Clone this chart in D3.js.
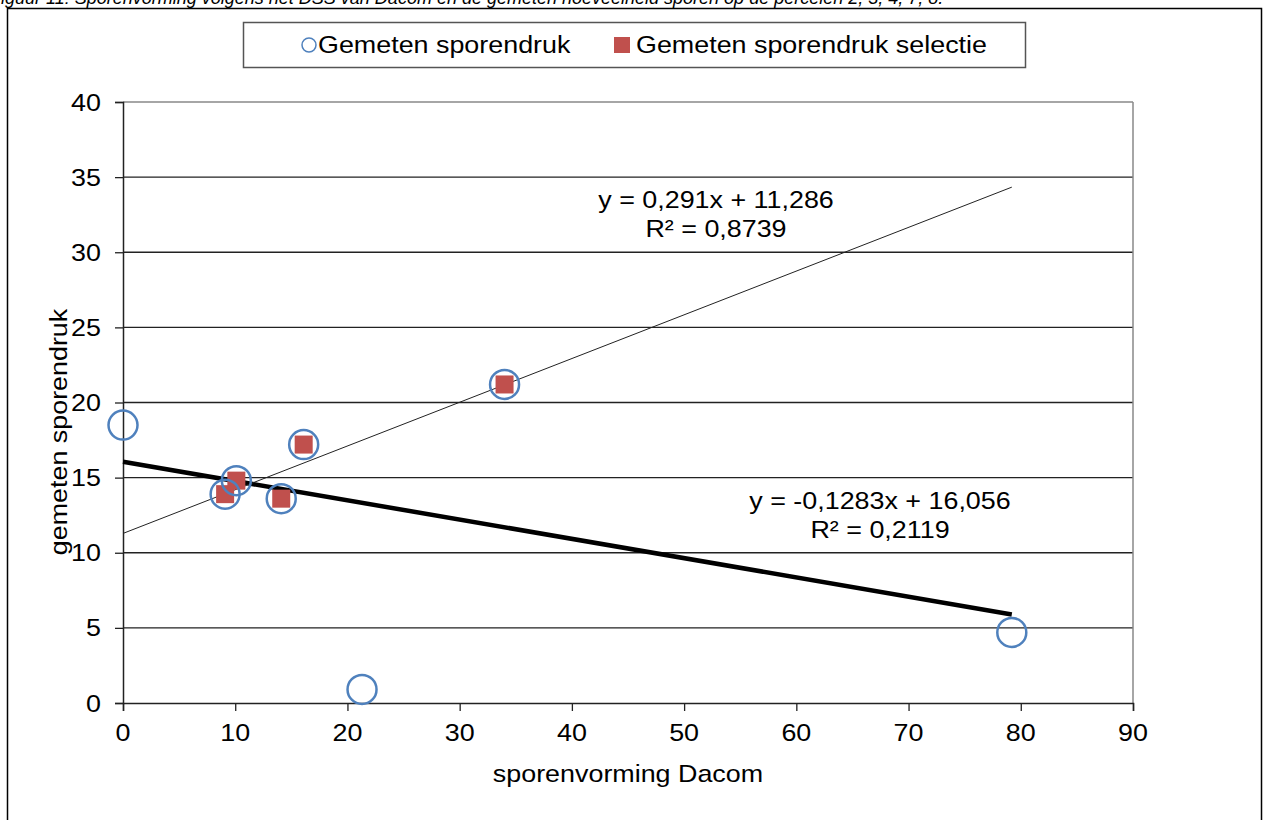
<!DOCTYPE html>
<html>
<head>
<meta charset="utf-8">
<script src="https://cdn.jsdelivr.net/npm/d3@7"></script>
<style>
  body { margin: 0; background: #fff; }
  text { font-family: "Liberation Sans", Arial, sans-serif; fill: #000; }
</style>
</head>
<body>
<div id="chartArea"></div>
<script>
// Data
const sporenvorming = [0, 9.1, 10.1, 14.1, 16.1, 21.3, 34.0, 79.2];
const sporendruk = [18.5, 13.9, 14.8, 13.6, 17.2, 0.9, 21.2, 4.7];
const selectieX = [9.1, 10.1, 14.1, 16.1, 34.0];
const selectieY = [13.9, 14.8, 13.6, 17.2, 21.2];

// Trendlines as printed on the chart
const trendNames = ['alle', 'selectie'];
const trendSlope = [-0.1283, 0.291];
const trendIntercept = [16.056, 11.286];
const trendRange = [[0, 79.2], [0, 79.2]];
const trendLabel = [['y = -0,1283x + 16,056', 'R² = 0,2119'], ['y = 0,291x + 11,286', 'R² = 0,8739']];

const xTicks = [0, 10, 20, 30, 40, 50, 60, 70, 80, 90];
const yTicks = [0, 5, 10, 15, 20, 25, 30, 35, 40];
const legendNames = ['Gemeten sporendruk', 'Gemeten sporendruk selectie'];
const caption = 'Figuur 11: Sporenvorming volgens het DSS van Dacom en de gemeten hoeveelheid sporen op de percelen 2, 3, 4, 7, 8.';

const width = 1264, height = 820;
const plot = { left: 123, right: 1133, top: 102, bottom: 703 };
const fs = 24, sx = 1.12;   // fonts look a bit wider than Arial

const svg = d3.select('#chartArea').append('svg')
    .attr('width', width)
    .attr('height', height);

// caption, mostly cut off at the top
svg.append('text')
    .attr('x', -10)
    .attr('y', 4)
    .style('font-size', '18px')
    .style('font-style', 'italic')
    .text(caption);

// outer frame
svg.append('rect')
    .attr('x', 7.5).attr('y', 8.5)
    .attr('width', 1254).attr('height', 840)
    .attr('fill', 'none')
    .attr('stroke', '#000')
    .attr('stroke-width', 1.5);

let xScale = d3.scaleLinear().domain([0, 90]).range([plot.left, plot.right]);
let yScale = d3.scaleLinear().domain([0, 40]).range([plot.bottom, plot.top]);

function label(x, y, str, anchor, size, scaleX) {
    return svg.append('text')
        .attr('transform', 'translate(' + x + ',' + y + ') scale(' + scaleX + ',1)')
        .attr('text-anchor', anchor)
        .style('font-size', size + 'px')
        .text(str);
}

// gridlines
svg.append('g')
    .selectAll('line')
    .data(yTicks.slice(1))
    .enter().append('line')
    .attr('x1', plot.left).attr('x2', plot.right)
    .attr('y1', d => yScale(d)).attr('y2', d => yScale(d))
    .attr('stroke', d => d === 40 ? '#888' : '#222')
    .attr('stroke-width', 1.3);

// right edge of plot
svg.append('line')
    .attr('x1', plot.right).attr('x2', plot.right)
    .attr('y1', plot.top).attr('y2', plot.bottom)
    .attr('stroke', '#888').attr('stroke-width', 1.5);

// axes
let xAxis = svg.append('g')
    .attr('transform', 'translate(0,' + plot.bottom + ')')
    .call(d3.axisBottom(xScale).tickValues(xTicks).tickSize(8).tickFormat(''));
let yAxis = svg.append('g')
    .attr('transform', 'translate(' + plot.left + ',0)')
    .call(d3.axisLeft(yScale).tickValues(yTicks).tickSize(8).tickFormat(''));
[xAxis, yAxis].forEach(a => {
    a.select('.domain').attr('stroke', '#222').attr('stroke-width', 1.5);
    a.selectAll('.tick line').attr('stroke', '#222').attr('stroke-width', 1.3);
});

xTicks.forEach(t => label(xScale(t), 741, d3.format('d')(t), 'middle', fs, sx));
yTicks.forEach(t => label(101, yScale(t) + 8.5, d3.format('d')(t), 'end', fs, sx));

// axis titles
label(628, 782, 'sporenvorming Dacom', 'middle', fs, sx);
svg.append('text')
    .attr('transform', 'translate(67,432) rotate(-90) scale(' + sx + ',1)')
    .attr('text-anchor', 'middle')
    .style('font-size', fs + 'px')
    .text('gemeten sporendruk');

// trendlines
const trendWidth = [4.5, 1];
trendNames.forEach((n, i) => {
    let line = d3.line()
        .x(d => xScale(d))
        .y(d => yScale(trendSlope[i] * d + trendIntercept[i]));
    svg.append('path')
        .attr('class', 'trend-' + n)
        .attr('d', line(trendRange[i]))
        .attr('fill', 'none')
        .attr('stroke', i === 0 ? '#000' : '#222')
        .attr('stroke-width', trendWidth[i]);
});

// trendline labels
const labelPos = [[880, 509], [716, 208]];
trendLabel.forEach((l, i) => {
    label(labelPos[i][0], labelPos[i][1], l[0], 'middle', fs, sx);
    label(labelPos[i][0], labelPos[i][1] + 29, l[1], 'middle', fs, sx);
});

// points
svg.append('g')
    .selectAll('rect')
    .data(selectieX)
    .enter().append('rect')
    .attr('x', (d, i) => xScale(d) - 9)
    .attr('y', (d, i) => yScale(selectieY[i]) - 9)
    .attr('width', 18).attr('height', 18)
    .attr('fill', '#c0504d');

svg.append('g')
    .selectAll('circle')
    .data(sporenvorming)
    .enter().append('circle')
    .attr('cx', d => xScale(d))
    .attr('cy', (d, i) => yScale(sporendruk[i]))
    .attr('r', 14.5)
    .attr('fill', 'none')
    .attr('stroke', '#4f81bd')
    .attr('stroke-width', 2.5);

// legend
svg.append('rect')
    .attr('x', 243.5).attr('y', 22.5)
    .attr('width', 782).attr('height', 45)
    .attr('fill', '#fff')
    .attr('stroke', '#555')
    .attr('stroke-width', 1.5);
svg.append('circle')
    .attr('cx', 309).attr('cy', 45).attr('r', 7)
    .attr('fill', 'none').attr('stroke', '#4f81bd').attr('stroke-width', 1.5);
label(318, 53, legendNames[0], 'start', fs, sx);
svg.append('rect')
    .attr('x', 614).attr('y', 37).attr('width', 16).attr('height', 16)
    .attr('fill', '#c0504d');
label(636, 53, legendNames[1], 'start', fs, sx);
</script>
</body>
</html>
